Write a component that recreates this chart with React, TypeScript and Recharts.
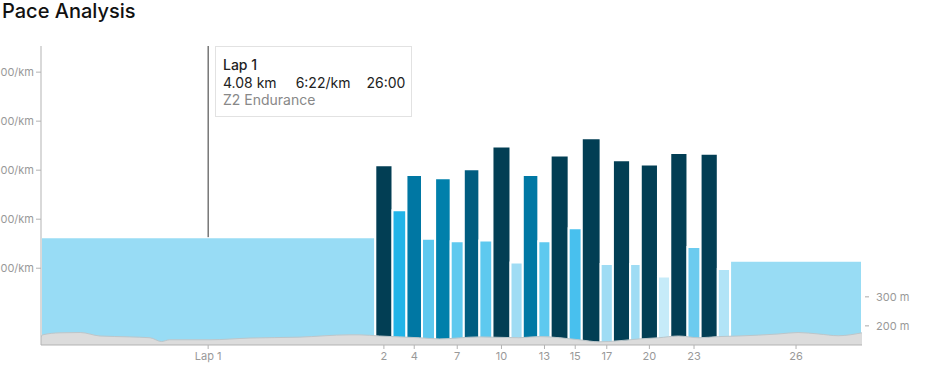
import React from "react";
import {
  ComposedChart,
  Area,
  XAxis,
  YAxis,
  ReferenceArea,
  ReferenceLine
} from "recharts";

// laps: distance (km) and pace (seconds per km)
const lapDistances = [
  4.08, 0.21, 0.17, 0.19, 0.16, 0.19, 0.16, 0.19, 0.16, 0.22, 0.15, 0.19, 0.15,
  0.22, 0.16, 0.23, 0.15, 0.21, 0.13, 0.21, 0.15, 0.21, 0.16, 0.21, 0.15, 1.61
];
const lapPaces = [
  382, 294, 349, 306, 384, 310, 387, 299, 386, 271, 413, 306, 387, 282, 371,
  261, 415, 288, 415, 293, 430, 279, 394, 280, 421, 411
];
const lapColors = [
  "#98dcf5", "#023e54", "#21b4e8", "#0077a3", "#5ec9ef", "#0080ab", "#5ec9ef",
  "#005d80", "#5ec9ef", "#023e54", "#9fdcf4", "#0078a4", "#5ec9ef", "#023e54",
  "#48c0ee", "#023e54", "#9fdcf4", "#023e54", "#9fdcf4", "#023e54", "#c6ebf9",
  "#023e54", "#6ccbef", "#023e54", "#b2e4f7", "#98dcf4"
];
const labelledLaps = [1, 2, 4, 7, 10, 13, 15, 17, 20, 23, 26];
const paceTicks = [180, 240, 300, 360, 420];

// elevation profile
const elevKm = [
  0, 0.02, 0.23, 0.48, 0.72, 1.08, 1.33, 1.47, 1.57, 2.06, 2.55, 3.15, 3.76,
  3.89, 4.13, 4.62, 4.86, 5.35, 5.83, 6.08, 6.57, 6.81, 6.93, 7.3, 7.54, 7.78,
  8.03, 8.27, 8.51, 9.0, 9.24, 9.49, 9.73, 10.02
];
const elevMeters = [
  162, 169, 176, 177, 165, 162, 159, 146, 152, 152, 158, 161, 169, 169, 165,
  159, 155, 162, 159, 163, 152, 145, 146, 155, 159, 165, 159, 163, 165, 172,
  177, 172, 166, 176
];
const elevTicks = [200, 300];

const lapStarts = lapDistances.map((_, i) =>
  lapDistances.slice(0, i).reduce((a, b) => a + b, 0)
);
const totalKm = lapDistances.reduce((a, b) => a + b, 0);
const lapMids = lapDistances.map((d, i) => lapStarts[i] + d / 2);

const elevData = elevKm.map((km, i) => ({ km, elev: elevMeters[i] }));

const fmtPace = (v: number) =>
  `${Math.floor(v / 60)}:${String(Math.round(v % 60)).padStart(2, "0")}/km`;

const fmtLap = (v: number) => {
  const i = lapMids.findIndex((m) => Math.abs(m - v) < 1e-6);
  return i === 0 ? "Lap 1" : String(i + 1);
};

const ElevTick = (props: any) => {
  const { x, y, payload } = props;
  return (
    <g>
      <line x1={x - 11} x2={x - 7} y1={y} y2={y} stroke="#aaa" />
      <text x={x} y={y} dy="0.35em" fill="#999" fontSize={11} textAnchor="start">
        {payload.value} m
      </text>
    </g>
  );
};

const tickStyle = { fill: "#999", fontSize: 11, fontFamily: "Inter" };

export default function App() {
  return (
    <div
      style={{
        position: "absolute",
        left: 0,
        top: 0,
        width: 933,
        height: 371,
        overflow: "hidden",
        background: "#fff",
        fontFamily: "Inter, sans-serif"
      }}
    >
      <div
        style={{
          position: "absolute",
          left: 2,
          top: 0,
          fontSize: 20,
          lineHeight: "22px",
          fontWeight: 500,
          color: "#111"
        }}
      >
        Pace Analysis
      </div>

      <div style={{ position: "absolute", left: 0, top: 0 }}>
        <ComposedChart
          width={933}
          height={371}
          data={elevData}
          margin={{ top: 46, right: 0, bottom: 0, left: 0 }}
        >
          <XAxis
            dataKey="km"
            type="number"
            domain={[0, totalKm]}
            ticks={labelledLaps.map((n) => lapMids[n - 1])}
            tickFormatter={fmtLap}
            interval={0}
            height={26}
            tickSize={4}
            tickMargin={3}
            stroke="#b3b3b3"
            tick={tickStyle}
            allowDataOverflow
          />
          <YAxis
            yAxisId="pace"
            domain={[148, 514]}
            reversed
            ticks={paceTicks}
            tickFormatter={fmtPace}
            width={41}
            tickSize={5}
            tickMargin={2}
            stroke="#b3b3b3"
            tick={tickStyle}
            allowDataOverflow
          />
          <YAxis
            yAxisId="elev"
            orientation="right"
            domain={[134, 1165]}
            ticks={elevTicks}
            width={71}
            axisLine={false}
            tickLine={false}
            tickSize={7}
            tickMargin={7}
            tick={<ElevTick />}
            allowDataOverflow
          />

          {lapPaces.map((p, i) => (
            <ReferenceArea
              key={i}
              yAxisId="pace"
              x1={lapStarts[i]}
              x2={lapStarts[i] + lapDistances[i]}
              y1={514}
              y2={p}
              fill={lapColors[i]}
              fillOpacity={1}
              stroke="#fff"
              strokeWidth={2}
              zIndex={50}
            />
          ))}

          <Area
            yAxisId="elev"
            dataKey="elev"
            type="monotone"
            fill="#dcdcdc"
            fillOpacity={1}
            stroke="#bcc6ca"
            strokeWidth={1}
            isAnimationActive={false}
            zIndex={150}
          />

          <ReferenceLine
            yAxisId="pace"
            segment={[
              { x: lapMids[0], y: 148 },
              { x: lapMids[0], y: lapPaces[0] }
            ]}
            stroke="#333"
            strokeWidth={1}
          />
        </ComposedChart>
      </div>

      <div
        style={{
          position: "absolute",
          left: 215,
          top: 46,
          width: 195,
          height: 69,
          border: "1px solid #e2e2e2",
          background: "#fff",
          boxSizing: "content-box",
          fontSize: 14,
          lineHeight: "17.5px",
          color: "#222",
          padding: 0
        }}
      >
        <div style={{ position: "absolute", left: 7, top: 9 }}>
          <div style={{ fontWeight: 500 }}>Lap 1</div>
          <div style={{ whiteSpace: "pre" }}>
            {`${lapDistances[0].toFixed(2)} km`}
            <span style={{ marginLeft: 19 }}>{fmtPace(lapPaces[0])}</span>
            <span style={{ marginLeft: 16 }}>26:00</span>
          </div>
          <div style={{ color: "#888" }}>Z2 Endurance</div>
        </div>
      </div>
    </div>
  );
}
